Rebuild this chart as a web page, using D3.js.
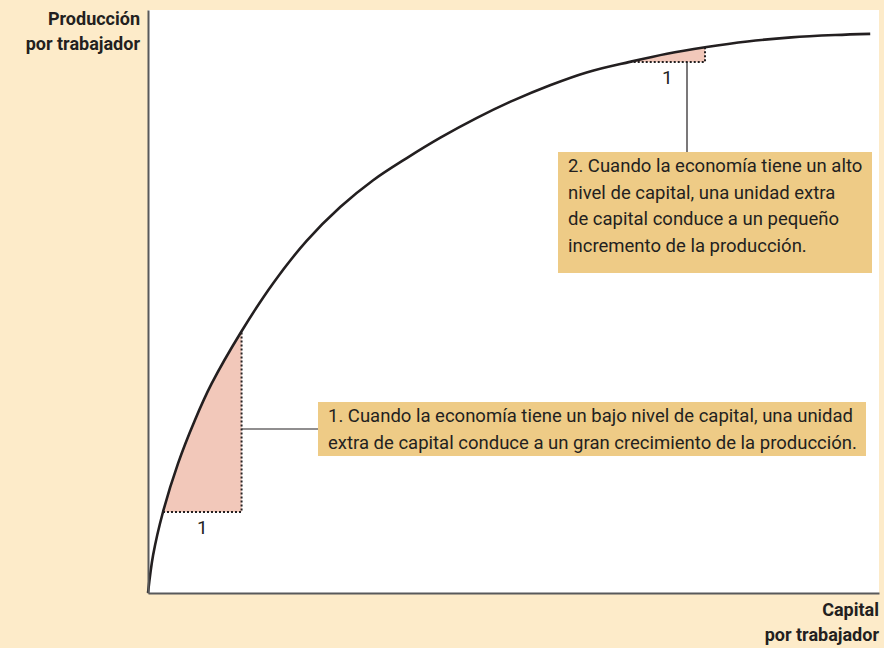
<!DOCTYPE html>
<html>
<head>
<meta charset="utf-8">
<script src="https://cdn.jsdelivr.net/npm/d3@7"></script>
<style>
  body { margin: 0; background: #fdebc9; }
  text { font-family: Roboto, "Noto Sans", sans-serif; fill: #231f20; }
</style>
</head>
<body>
<div id="chart"></div>
<script>
// Production function (arbitrary units, 0-100)
const capital = [0, 0.7, 2.05, 4.1, 6.4, 8.7, 12.8, 17.1, 21.7, 26.3, 30.8, 35.4, 40, 45, 50, 55, 60, 65.9, 71, 76.2, 82, 88, 94, 98.8];
const output  = [0, 6.5, 13.9, 22.2, 29.6, 35.9, 44.9, 53.1, 60.4, 66.2, 70.8, 74.6, 78.1, 81.5, 84.5, 87.1, 89.3, 91.1, 92.5, 93.6, 94.6, 95.3, 95.7, 95.9];

// one extra unit of capital: start and end capital of each step
const stepFrom = [2.05, 65.9];
const stepTo   = [12.8, 76.2];
const stepLabel = ["1", "1"];

const yTitle = ["Producción", "por trabajador"];
const xTitle = ["Capital", "por trabajador"];
const note1 = ["1. Cuando la economía tiene un bajo nivel de capital, una unidad",
               "extra de capital conduce a un gran crecimiento de la producción."];
const note2 = ["2. Cuando la economía tiene un alto",
               "nivel de capital, una unidad extra",
               "de capital conduce a un pequeño",
               "incremento de la producción."];

const width = 884, height = 648;
const margin = { top: 10, right: 5, bottom: 55, left: 148 };

const svg = d3.select("#chart").append("svg")
    .attr("width", width)
    .attr("height", height);

const x = d3.scaleLinear().domain([0, 100]).range([margin.left, width - margin.right]);
const y = d3.scaleLinear().domain([0, 100]).range([height - margin.bottom, margin.top]);

const data = capital.map((c, i) => ({ k: c, q: output[i] }));
const outAt = k => output[capital.indexOf(k)];

// white plot area
svg.append("rect")
    .attr("x", x(0)).attr("y", y(100))
    .attr("width", x(100) - x(0)).attr("height", y(0) - y(100))
    .attr("fill", "#fff");

const curve = d3.curveCatmullRom.alpha(0.5);

// shaded steps under the curve
stepFrom.forEach((k0, i) => {
    const k1 = stepTo[i];
    const q0 = outAt(k0), q1 = outAt(k1);
    const id = "clip" + i;
    svg.append("clipPath").attr("id", id)
        .append("rect")
        .attr("x", x(k0)).attr("y", y(q1) - 5)
        .attr("width", x(k1) - x(k0)).attr("height", y(q0) - y(q1) + 5);

    svg.append("path")
        .datum(data)
        .attr("clip-path", `url(#${id})`)
        .attr("fill", "#f2c8ba")
        .attr("d", d3.area().curve(curve).x(d => x(d.k)).y0(y(q0)).y1(d => y(d.q)));

    svg.append("path")
        .attr("fill", "none")
        .attr("stroke", "#231f20")
        .attr("stroke-width", 2)
        .attr("stroke-dasharray", "2,2")
        .attr("d", `M${x(k0)},${y(q0)}H${x(k1)}V${y(q1)}`);

    svg.append("text")
        .attr("x", (x(k0) + x(k1)) / 2)
        .attr("y", y(q0) + 22)
        .attr("text-anchor", "middle")
        .attr("font-size", 19)
        .text(stepLabel[i]);
});

// the curve
svg.append("path")
    .datum(data)
    .attr("fill", "none")
    .attr("stroke", "#231f20")
    .attr("stroke-width", 2.6)
    .attr("d", d3.line().curve(curve).x(d => x(d.k)).y(d => y(d.q)));

// axes (no ticks, just the lines)
svg.append("g")
    .attr("transform", `translate(${x(0)},0)`)
    .call(d3.axisLeft(y).ticks(0).tickSizeOuter(0))
    .select(".domain").attr("stroke", "#58595b").attr("stroke-width", 2);

svg.append("g")
    .attr("transform", `translate(0,${y(0)})`)
    .call(d3.axisBottom(x).ticks(0).tickSizeOuter(0))
    .select(".domain").attr("stroke", "#58595b").attr("stroke-width", 2);

// axis titles
svg.append("text")
    .attr("x", 140).attr("y", 25)
    .attr("text-anchor", "end")
    .attr("font-size", 18).attr("font-weight", "bold")
    .selectAll("tspan").data(yTitle).join("tspan")
    .attr("x", 140).attr("dy", (d, i) => i ? 25 : 0)
    .text(d => d);

svg.append("text")
    .attr("x", 879).attr("y", 616)
    .attr("text-anchor", "end")
    .attr("font-size", 18).attr("font-weight", "bold")
    .selectAll("tspan").data(xTitle).join("tspan")
    .attr("x", 879).attr("dy", (d, i) => i ? 25 : 0)
    .text(d => d);

// annotation boxes
function note(lines, bx, by, bw, bh) {
    svg.append("rect")
        .attr("x", bx).attr("y", by)
        .attr("width", bw).attr("height", bh)
        .attr("fill", "#eecb86");
    svg.append("text")
        .attr("font-size", 18.5)
        .selectAll("tspan").data(lines).join("tspan")
        .attr("x", bx + 10)
        .attr("y", (d, i) => by + 20 + i * 26.5)
        .text(d => d);
}

// connector for step 1
svg.append("line")
    .attr("x1", x(stepTo[0])).attr("x2", 318)
    .attr("y1", 429).attr("y2", 429)
    .attr("stroke", "#231f20").attr("stroke-width", 1.2);
note(note1, 318, 402, 548, 54);

// connector for step 2
svg.append("line")
    .attr("x1", 687).attr("x2", 687)
    .attr("y1", y(outAt(stepFrom[1]))).attr("y2", 152)
    .attr("stroke", "#231f20").attr("stroke-width", 1.2);
note(note2, 558, 152, 314, 121);
</script>
</body>
</html>
